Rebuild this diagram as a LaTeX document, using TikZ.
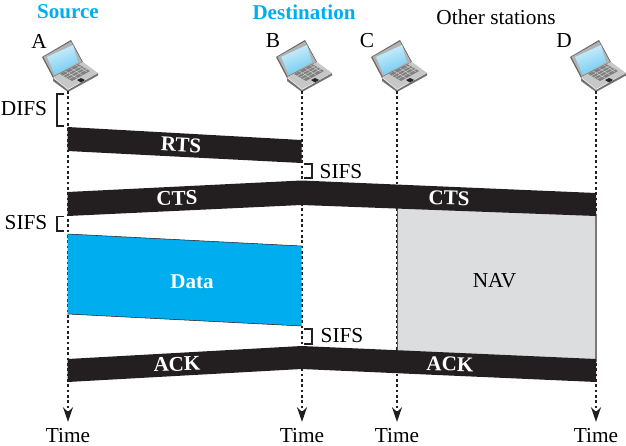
\documentclass[tikz,border=0pt]{standalone}
\usepackage{fontspec}
\setmainfont{Liberation Serif}
\usepackage{tikz}
\usetikzlibrary{arrows.meta, positioning}

\definecolor{barblack}{HTML}{231F20}
\definecolor{datablue}{HTML}{00AEEF}
\definecolor{navgray}{HTML}{DCDDDE}
\definecolor{screenblue}{HTML}{6CCBF2}

\tikzset{
    laptop/.pic={
        \coordinate (foot) at (0,0);
        % lid
        \fill[black!60] (-15,-13) -- (-26,-34) -- (3,-51) -- (15,-29) -- cycle;
        \fill[black!30] (-14.5,-15) -- (-24.5,-34) -- (3,-49.5) -- (14,-29) -- cycle;
        \shade[left color=white!70!screenblue, right color=screenblue, shading angle=20]
            (-13,-16) -- (-21,-34) -- (5,-46) -- (10,-29) -- cycle;
        % base
        \fill[black!55] (-15,-13) -- (0,-1) -- (30,-18) -- (30,-15.5) -- (0,1) -- (-15,-10) -- cycle;
        \fill[black!22] (-15,-14) -- (0,-2) -- (30,-18) -- (15,-29) -- cycle;
        \fill[black!50] (-8,-17) -- (10,-27) -- (22,-20) -- (4,-10) -- cycle;
        \draw[black!18, line width=0.3pt] (-5,-15) -- (13,-25) (-2,-13.5) -- (16,-23.5) (1,-12) -- (19,-22)
            (-3,-20) -- (9,-13) (3,-23) -- (14,-16) (8,-26) -- (19,-19);
        \fill[black!85] (9,-11) -- (13,-13) -- (17,-11) -- (13,-8.5) -- cycle;
    }
}

\begin{document}
\begin{tikzpicture}[
    x=0.75pt, y=-0.75pt,
    font=\fontsize{16}{19}\selectfont,
    lbl/.style={inner sep=0pt},
    head/.style={lbl, font=\fontsize{15.8}{19}\selectfont\bfseries, text=datablue},
    barlbl/.style={lbl, font=\fontsize{15.8}{19}\selectfont\bfseries, text=white},
    bar/.style={fill=barblack},
    timearr/.style={-{Stealth[length=11pt, width=7.5pt, inset=3.5pt]}, barblack, line width=1pt,
                    dash pattern=on 2pt off 2pt, shorten >=5pt},
    brace/.style={barblack, line width=0.8pt}
]
\useasboundingbox (0,0) rectangle (626,446);

%% ---- STATIONS ---------------------------------------------------
\pic (lapA) at (68,91)  {laptop};
\pic (lapB) at (302,91) {laptop};
\pic (lapC) at (397,91) {laptop};
\pic (lapD) at (596,91) {laptop};

\node[lbl] (nameA) at (39,41)  {A};
\node[lbl] (nameB) at (273,41) {B};
\node[lbl] (nameC) at (367,41) {C};
\node[lbl] (nameD) at (564,41) {D};

\node[head] (source) at (68,12)  {Source};
\node[head] (dest)   at (304,12) {Destination};
\node[lbl]  (others) at (496,17) {Other stations};

\node[lbl] (timeA) at (68,436)  {Time};
\node[lbl] (timeB) at (302,436) {Time};
\node[lbl] (timeC) at (397,436) {Time};
\node[lbl] (timeD) at (596,436) {Time};

%% ---- NAV ---------------------------------------------------------
\fill[navgray] (397,205) -- (596,214) -- (596,362) -- (397,352) -- cycle;
\node[lbl] (nav) at (494.5,281) {NAV};

%% ---- TIME LINES ---------------------------------------------------
\draw[timearr] (lapAfoot) -- (timeA);
\draw[timearr] (lapBfoot) -- (timeB);
\draw[timearr] (lapCfoot) -- (timeC);
\draw[timearr] (lapDfoot) -- (timeD);
\draw[barblack!75, line width=0.6pt] (397,205) -- (397,352);
\draw[barblack!60, line width=0.8pt] (596,214) -- (596,362);

%% ---- FRAMES --------------------------------------------------------
\fill[bar] (67.5,127) -- (301.5,140) -- (301.5,163) -- (67.5,151) -- cycle;
\node[barlbl, rotate=-3] (rts) at (181,145) {RTS};

\fill[bar] (67.5,192) -- (301.5,180.5) -- (596,193) -- (596,216) -- (301.5,205) -- (67.5,216) -- cycle;
\node[barlbl, rotate=1.5] (ctsA) at (177,198) {CTS};
\node[barlbl, rotate=-1.5] (ctsB) at (449,198) {CTS};

\fill[datablue] (67.5,234) -- (301.5,246) -- (301.5,326) -- (67.5,314) -- cycle;
\draw[barblack, line width=0.4pt] (67.5,234) -- (301.5,246) (67.5,314) -- (301.5,326);
\node[barlbl] (data) at (192,282) {Data};

\fill[bar] (67.5,359) -- (301.5,346) -- (596,359) -- (596,382) -- (301.5,369) -- (67.5,382) -- cycle;
\node[barlbl, rotate=1.5] (ackA) at (177,364) {ACK};
\node[barlbl, rotate=-1.5] (ackB) at (450,364) {ACK};

%% ---- INTERFRAME SPACES ---------------------------------------------
\draw[brace] (64,94) -- (57,94) -- (57,126) -- (64,126);
\node[lbl] (difs) at (24,109) {DIFS};

\draw[brace] (64,216.5) -- (57,216.5) -- (57,231) -- (64,231);
\node[lbl] (sifsA) at (26,223) {SIFS};

\draw[brace] (304,164) -- (312,164) -- (312,178) -- (304,178);
\node[lbl] (sifsB) at (341,172) {SIFS};

\draw[brace] (304,329) -- (312,329) -- (312,344) -- (304,344);
\node[lbl] (sifsC) at (342,336) {SIFS};

\end{tikzpicture}
\end{document}
